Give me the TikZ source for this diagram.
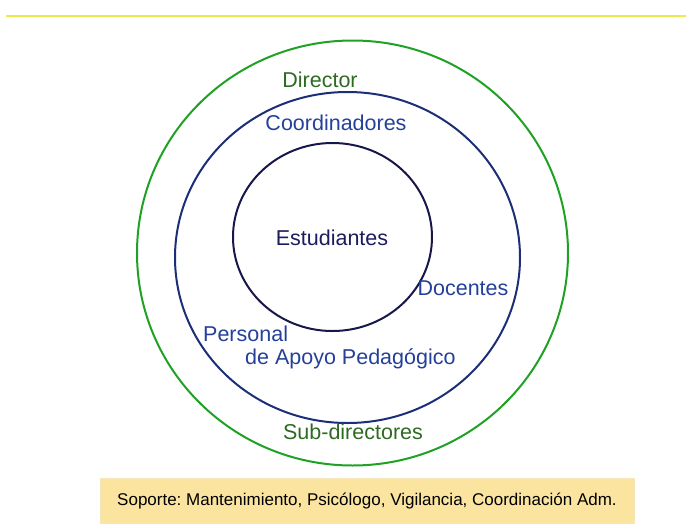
\documentclass[tikz,border=0pt]{standalone}
\usepackage{fontspec}
\setmainfont{Liberation Sans}
\usetikzlibrary{shapes.geometric}
\frenchspacing
\definecolor{topline}{HTML}{EEE84A}
\definecolor{ringgreen}{HTML}{1FA224}
\definecolor{ringblue}{HTML}{1C2E78}
\definecolor{ringinner}{HTML}{17174A}
\definecolor{txtgreen}{HTML}{2E6A22}
\definecolor{txtblue}{HTML}{24409A}
\definecolor{txtnavy}{HTML}{1B1B5E}
\definecolor{boxfill}{HTML}{FBE3A0}
\definecolor{boxedge}{HTML}{F6E6BC}
\tikzset{
  ring/.style={ellipse, line width=2pt, inner sep=0pt, outer sep=0pt},
  lbl/.style={inner sep=0pt, font=\fontsize{21.5}{24}\selectfont},
  supbox/.style={fill=boxfill, draw=boxedge, line width=1pt, inner sep=0pt,
     minimum width=534pt, minimum height=45pt, font=\fontsize{17}{20}\selectfont}
}
\begin{document}
\begin{tikzpicture}[x=1pt,y=-1pt]
\useasboundingbox (0,0) rectangle (686,531);
% top rule
\coordinate (la) at (6,15.7);
\coordinate (lb) at (686,15.7);
\draw[topline, line width=2.2pt] (la) -- (lb);
% rings
\node[ring, draw=ringgreen, minimum width=431pt, minimum height=425pt] (outer) at (352.5,253) {};
\node[ring, draw=ringblue, minimum width=345pt, minimum height=331pt] (middle) at (347.5,257.5) {};
\node[ring, draw=ringinner, minimum width=199pt, minimum height=188pt] (inner) at (332.5,237) {};
% labels
\node[lbl, text=txtgreen] (dir) at (320,80) {Director};
\node[lbl, text=txtblue] (coo) at (336,123) {Coordinadores};
\node[lbl, text=txtnavy] (est) at (332,238) {Estudiantes};
\node[lbl, text=txtblue] (doc) at (463,288) {Docentes};
\node[lbl, text=txtblue, anchor=west] (per) at (203,334) {Personal};
\node[lbl, text=txtblue, anchor=west] (apo) at (245,359) {de Apoyo Pedagógico};
\node[lbl, text=txtgreen] (sub) at (353,432) {Sub-directores};
% support box
\node[supbox] (sop) at (367,500.5) {Soporte: Mantenimiento, Psicólogo, Vigilancia, Coordinación Adm.};
\end{tikzpicture}
\end{document}
